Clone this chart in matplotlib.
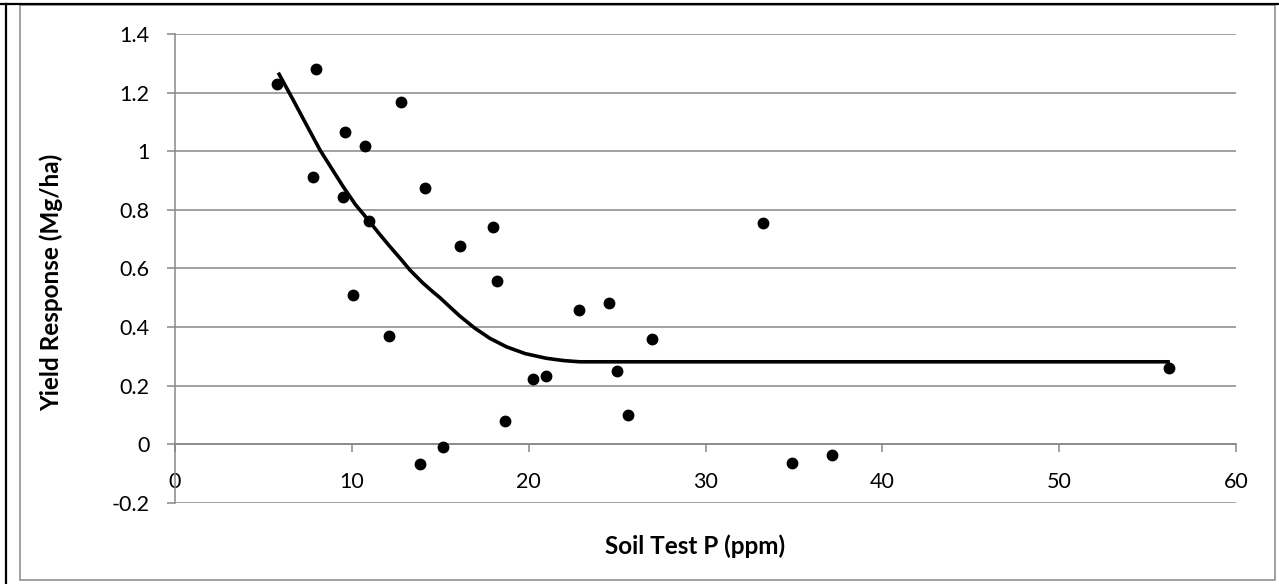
import matplotlib
matplotlib.use("Agg")
import matplotlib.pyplot as plt
from matplotlib.lines import Line2D
from matplotlib.patches import Rectangle

# ---- data ----
soil_p = [5.77, 7.97, 12.76, 9.61, 10.74, 7.78, 14.15, 9.48, 10.95, 10.05,
          12.1, 15.13, 13.87, 16.13, 17.96, 18.19, 22.84, 24.54, 26.97, 20.24,
          21.0, 24.98, 25.6, 18.68, 33.27, 56.19, 34.87, 37.17]
yield_resp = [1.231, 1.280, 1.169, 1.064, 1.017, 0.913, 0.875, 0.844, 0.762, 0.509,
              0.369, -0.011, -0.069, 0.677, 0.742, 0.557, 0.459, 0.483, 0.359, 0.222,
              0.231, 0.249, 0.098, 0.078, 0.756, 0.261, -0.066, -0.037]

fit_x = [5.84, 6.69, 7.45, 8.2, 8.9, 9.52, 10.2, 10.93, 11.55, 12.16, 12.75,
         13.29, 14.0, 14.6, 14.98, 15.55, 16.11, 16.95, 17.81, 18.75, 19.8,
         21.0, 22.0, 22.9, 56.26]
fit_y = [1.268, 1.174, 1.088, 1.004, 0.937, 0.878, 0.818, 0.765, 0.718, 0.674,
         0.633, 0.594, 0.551, 0.519, 0.500, 0.468, 0.437, 0.396, 0.361, 0.332,
         0.309, 0.293, 0.285, 0.281, 0.281]

x_ticks = [0, 10, 20, 30, 40, 50, 60]
y_ticks = [-0.2, 0, 0.2, 0.4, 0.6, 0.8, 1, 1.2, 1.4]
y_tick_labels = ["-0.2", "0", "0.2", "0.4", "0.6", "0.8", "1", "1.2", "1.4"]
x_title = "Soil Test P (ppm)"
y_title = "Yield Response (Mg/ha)"

W, H = 1279, 584
GRID = "#878787"
FONT = "Lato"

fig = plt.figure(figsize=(W / 100, H / 100), dpi=100)

def fx(px):
    return px / W

def fy(py):
    return 1 - py / H

# outer frame lines (document borders)
fig.add_artist(Line2D([0, 1], [fy(3.8), fy(3.8)], transform=fig.transFigure,
                      color="black", lw=1.6))
fig.add_artist(Line2D([fx(6), fx(6)], [0, fy(3.8)], transform=fig.transFigure,
                      color="black", lw=1.6))
fig.add_artist(Rectangle((fx(20), fy(580)), fx(1275) - fx(20), fy(5) - fy(580),
                         transform=fig.transFigure, fill=False,
                         edgecolor=GRID, lw=1.1))

x0, x1 = 175, 1236
ytop, ybot = 34, 502.7
ax = fig.add_axes([fx(x0), fy(ybot), fx(x1) - fx(x0), fy(ytop) - fy(ybot)])
ax.set_xlim(0, 60)
ax.set_ylim(-0.2, 1.4)

for s in ["top", "right"]:
    ax.spines[s].set_visible(False)
ax.spines["left"].set_color(GRID)
ax.spines["left"].set_linewidth(1.1)
ax.spines["bottom"].set_position(("data", 0))
ax.spines["bottom"].set_color(GRID)
ax.spines["bottom"].set_linewidth(1.1)

ax.set_xticks(x_ticks)
ax.set_xticklabels([str(v) for v in x_ticks])
ax.set_yticks(y_ticks)
ax.set_yticklabels(y_tick_labels)
ax.tick_params(axis="both", direction="out", length=5.8, width=1.1, color=GRID,
               labelsize=15.5, labelcolor="black")
ax.tick_params(axis="x", pad=14.4)
ax.tick_params(axis="y", pad=12.7)
for lab in ax.get_xticklabels() + ax.get_yticklabels():
    lab.set_family(FONT)

ax.yaxis.grid(True, color=GRID, lw=1.1)
ax.set_axisbelow(True)

ax.plot(fit_x, fit_y, color="black", lw=2.6, solid_capstyle="butt",
        solid_joinstyle="round", zorder=3)
ax.plot(soil_p, yield_resp, "o", color="black", ms=7.5, mec="black", zorder=4,
        clip_on=False)

fig.text(fx(694.6), fy(546), x_title, ha="center", va="center",
         fontsize=17.5, fontweight="bold", family=FONT)
fig.text(fx(51), fy(282), y_title, ha="center", va="center", rotation=90,
         fontsize=17.5, fontweight="bold", family=FONT)

fig.savefig("out.png", dpi=100)
